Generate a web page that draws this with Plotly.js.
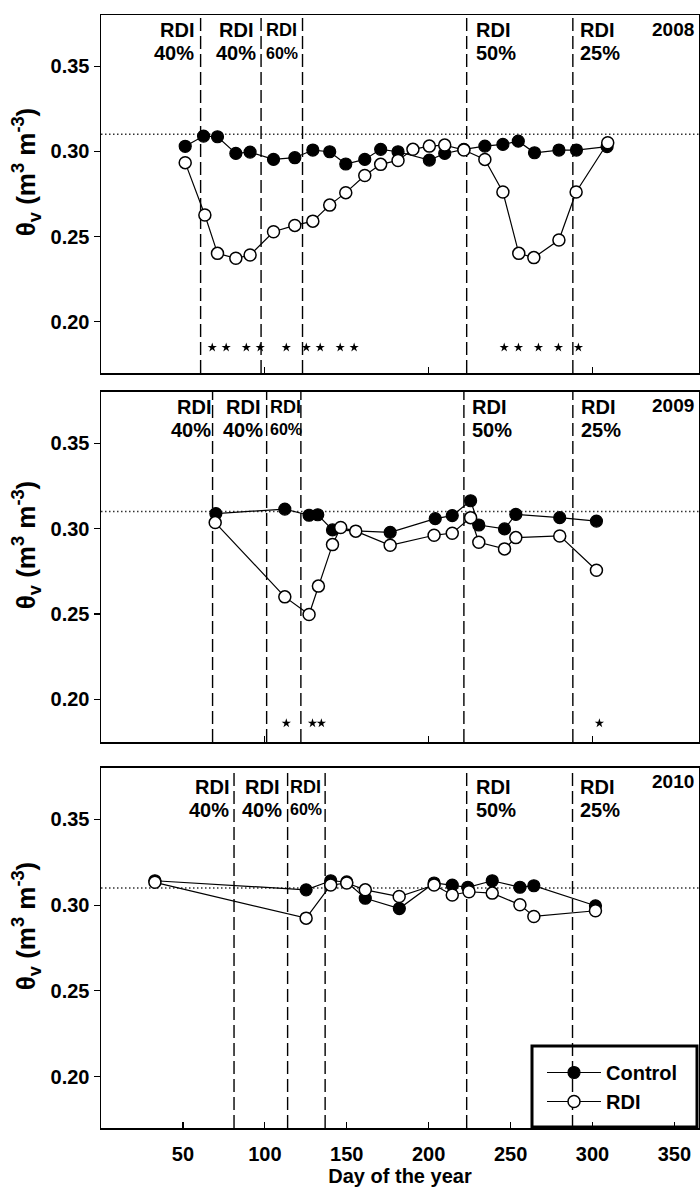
<!DOCTYPE html>
<html>
<head>
<meta charset="utf-8">
<script src="https://cdn.plot.ly/plotly-3.0.1.min.js"></script>
<style>
  html, body { margin: 0; padding: 0; background: #fff; }
  #chart { width: 700px; height: 1187px; }
</style>
</head>
<body>
<div id="chart"></div>
<script>
// ---------------- DATA ----------------
const years = ['2008', '2009', '2010'];

// 2008
const control2008Day = [51.4, 62.6, 71.1, 82.3, 91, 105.3, 118.3, 129.3, 139.6, 149.4, 161, 170.7, 181.3, 200.4, 209.8, 221.5, 234.3, 245.3, 254.7, 264.6, 279.5, 290.2, 308.9];
const control2008 = [0.303, 0.309, 0.3086, 0.2988, 0.2996, 0.2953, 0.2963, 0.3008, 0.2998, 0.2926, 0.2953, 0.3012, 0.2998, 0.2949, 0.2988, 0.3012, 0.3031, 0.3041, 0.306, 0.2992, 0.3008, 0.3008, 0.3028];
const rdi2008Day = [51.4, 63.4, 71.1, 82.3, 91, 105.3, 118.3, 129.3, 139.6, 149.4, 161, 170.7, 181.3, 190.4, 200.4, 209.8, 221.5, 234.3, 245.3, 255, 264.2, 279.5, 290, 309.3];
const rdi2008 = [0.2934, 0.2627, 0.2402, 0.2373, 0.2392, 0.2529, 0.2566, 0.2591, 0.2685, 0.2758, 0.2859, 0.2924, 0.2947, 0.3012, 0.3031, 0.3037, 0.3008, 0.2953, 0.2762, 0.2402, 0.2377, 0.248, 0.2762, 0.3051];

// 2009
const control2009Day = [70.1, 112.2, 127, 132.3, 141.3, 176.5, 204, 214.4, 225.6, 230.6, 246.3, 253.2, 280, 302.4];
const control2009 = [0.3088, 0.3114, 0.3078, 0.3081, 0.2992, 0.2978, 0.3058, 0.3076, 0.3163, 0.3021, 0.2998, 0.3083, 0.3064, 0.3044];
const rdi2009Day = [69.7, 112.2, 127, 132.7, 141.3, 146.3, 155.5, 176.5, 203.3, 214.4, 225.6, 230.6, 246.3, 253.2, 280, 302.4];
const rdi2009 = [0.3035, 0.260, 0.2497, 0.2663, 0.2906, 0.3006, 0.2985, 0.2902, 0.2961, 0.2973, 0.3064, 0.2920, 0.2881, 0.2947, 0.2957, 0.2756];

// 2010
const control2010Day = [32.9, 125.2, 140.2, 150, 161.3, 182.1, 203.3, 214.4, 223.9, 238.8, 255.7, 264.2, 301.8];
const control2010 = [0.3142, 0.3089, 0.3142, 0.3135, 0.3040, 0.2980, 0.3129, 0.3117, 0.3104, 0.3142, 0.3104, 0.3113, 0.2996];
const rdi2010Day = [32.9, 125.2, 140.2, 150, 161.3, 182, 203.3, 214.4, 224.6, 238.8, 255.7, 264.2, 301.8];
const rdi2010 = [0.3133, 0.2924, 0.3117, 0.3129, 0.3089, 0.3050, 0.3117, 0.3059, 0.3078, 0.307, 0.3002, 0.2934, 0.2967];

// RDI period boundaries (day of year)
const rdiStart2008 = [60.8, 97.7, 123, 223.2, 288];
const rdiStart2009 = [68.1, 101.1, 122, 221.5, 288];
const rdiStart2010 = [81.2, 113.9, 136.8, 223.2, 287.8];

// Significance marks (day of year)
const sig2008Day = [67.9, 76.4, 88.7, 97.2, 113.1, 125.3, 133.8, 146, 154.5, 246.1, 254.8, 267, 279.2, 291.4];
const sig2009Day = [113.1, 129.1, 134.5, 304.2];
const sig2010Day = [];

// Period labels
const periodName = ['RDI', 'RDI', 'RDI', 'RDI', 'RDI'];
const periodPct = ['40%', '40%', '60%', '50%', '25%'];

const fieldCapacity = 0.31;
const seriesNames = ['Control', 'RDI'];
const xTickVals = [50, 100, 150, 200, 250, 300, 350];
const yTickVals = [0.20, 0.25, 0.30, 0.35];

// ---------------- STYLE / LAYOUT ----------------
const FONT = '"Liberation Sans", Arial, Helvetica, sans-serif';
const sigLevel = [0.185, 0.186, 0.185];
const yRanges = [[0.17, 0.38], [0.175, 0.38], [0.17, 0.38]];
const domains = [[0.6783, 1], [0.3468, 0.6613], [0, 0.3235]];

// pixel -> paper helpers for the legend frame (plot area: x 101..699, y 15..1128)
const pxX = px => (px - 101) / 598;
const pxY = py => (1128 - py) / 1113;

// label placement per panel: [x, xanchor] for each of the 5 labels
const labelPos = [
  [[58.2, 'right'], [82.5, 'center'], [99.2, 'left'], [227.8, 'left'], [291.2, 'left']],
  [[68.2, 'right'], [86.8, 'center'], [102.1, 'left'], [225.3, 'left'], [291.8, 'left']],
  [[79.6, 'right'], [98.4, 'center'], [114.3, 'left'], [227.8, 'left'], [291.2, 'left']]
];
const labelShift = [[15, 38], [15, 38], [19, 42]];

const panels = [
  {cd: control2008Day, c: control2008, rd: rdi2008Day, r: rdi2008, lines: rdiStart2008, sig: sig2008Day},
  {cd: control2009Day, c: control2009, rd: rdi2009Day, r: rdi2009, lines: rdiStart2009, sig: sig2009Day},
  {cd: control2010Day, c: control2010, rd: rdi2010Day, r: rdi2010, lines: rdiStart2010, sig: sig2010Day}
];

const traces = [];
const shapes = [];
const annotations = [];
const layout = {
  width: 700, height: 1187,
  margin: {l: 101, r: 1, t: 15, b: 59},
  paper_bgcolor: 'white', plot_bgcolor: 'white',
  font: {family: FONT, color: 'black', size: 20, weight: 'bold'},
  showlegend: true,
  legend: {
    x: pxX(542), xanchor: 'left', y: pxY(1087), yanchor: 'middle',
    borderwidth: 0, bgcolor: 'rgba(0,0,0,0)',
    font: {family: FONT, size: 20, weight: 'bold', color: 'black'},
    traceorder: 'normal', itemwidth: 54,
    tracegroupgap: 0
  }
};

panels.forEach((p, i) => {
  const n = i + 1;
  const xa = n === 1 ? 'x' : 'x' + n;
  const ya = n === 1 ? 'y' : 'y' + n;
  const xk = n === 1 ? 'xaxis' : 'xaxis' + n;
  const yk = n === 1 ? 'yaxis' : 'yaxis' + n;
  const last = i === 2;

  layout[xk] = {
    domain: [0, 1], anchor: ya, range: [0, 365],
    showline: true, mirror: true, linecolor: 'black', linewidth: 1.5,
    showgrid: false, zeroline: false,
    ticks: 'inside', ticklen: 6, tickwidth: 1.2, tickcolor: 'black',
    tickmode: 'array',
    tickvals: last ? xTickVals : [100, 200, 300],
    showticklabels: last,
    ticklabelstandoff: 7,
    tickfont: {family: FONT, size: 20, weight: 'bold', color: 'black'},
    fixedrange: true
  };
  if (last) {
    layout[xk].title = {text: 'Day of the year', font: {family: FONT, size: 20, weight: 'bold', color: 'black'}, standoff: 11};
  }
  layout[yk] = {
    domain: domains[i], anchor: xa, range: yRanges[i],
    showline: true, mirror: true, linecolor: 'black', linewidth: 1.5,
    showgrid: false, zeroline: false,
    ticks: 'outside', ticklen: 6, tickwidth: 1.2, tickcolor: 'black',
    tickmode: 'array', tickvals: yTickVals, tickformat: '.2f',
    tickfont: {family: FONT, size: 20, weight: 'bold', color: 'black'},
    fixedrange: true
  };

  // series
  traces.push({
    x: p.cd, y: p.c, xaxis: xa, yaxis: ya, name: seriesNames[0],
    type: 'scatter', mode: 'lines+markers', showlegend: last, legendgroup: 'c',
    line: {color: 'black', width: 1.2},
    marker: {symbol: 'circle', size: 12, color: 'black', line: {color: 'black', width: 1.2}}
  });
  traces.push({
    x: p.rd, y: p.r, xaxis: xa, yaxis: ya, name: seriesNames[1],
    type: 'scatter', mode: 'lines+markers', showlegend: last, legendgroup: 'r',
    line: {color: 'black', width: 1.2},
    marker: {symbol: 'circle', size: 12, color: 'white', line: {color: 'black', width: 1.5}}
  });
  if (p.sig.length) {
    traces.push({
      x: p.sig, y: p.sig.map(() => sigLevel[i]), xaxis: xa, yaxis: ya,
      type: 'scatter', mode: 'markers', showlegend: false, hoverinfo: 'skip',
      marker: {symbol: 'star', size: 7, color: 'black', line: {width: 0}}
    });
  }

  // reference (field capacity) dotted line
  shapes.push({
    type: 'line', xref: xa + ' domain', x0: 0, x1: 1, yref: ya, y0: fieldCapacity, y1: fieldCapacity,
    line: {color: '#333', width: 1.5, dash: '1.5px,2.5px'}, layer: 'below'
  });
  // RDI period dashed lines
  p.lines.forEach(d => {
    shapes.push({
      type: 'line', xref: xa, x0: d, x1: d, yref: ya + ' domain', y0: 0, y1: 1,
      line: {color: 'black', width: 1.4, dash: '13px,5px'}, layer: 'below'
    });
  });

  // period labels
  labelPos[i].forEach((lp, k) => {
    const small = k === 2;
    annotations.push({
      xref: xa, x: lp[0], xanchor: lp[1], yref: ya + ' domain', y: 1, yanchor: 'middle',
      yshift: -labelShift[i][0], showarrow: false, text: periodName[k],
      font: {family: FONT, size: small ? 18 : 20, weight: 'bold', color: 'black'}
    });
    annotations.push({
      xref: xa, x: lp[0], xanchor: lp[1], yref: ya + ' domain', y: 1, yanchor: 'middle',
      yshift: -labelShift[i][1], showarrow: false, text: periodPct[k],
      font: {family: FONT, size: small ? 16 : 20, weight: 'bold', color: 'black'}
    });
  });
  // year label
  annotations.push({
    xref: xa + ' domain', x: 1, xanchor: 'right', xshift: -3,
    yref: ya + ' domain', y: 1, yanchor: 'middle', yshift: -14,
    showarrow: false, text: years[i],
    font: {family: FONT, size: 19, weight: 'bold', color: 'black'}
  });
  // y-axis title
  annotations.push({
    xref: 'paper', x: -0.125, xanchor: 'center',
    yref: ya + ' domain', y: 0.5, yanchor: 'middle', yshift: 22,
    textangle: -90, showarrow: false,
    text: 'θ<sub>v</sub> (m<sup>3</sup> m<sup>-3</sup>)',
    font: {family: FONT, size: 26, weight: 'bold', color: 'black'}
  });
});

// legend frame (transparent, thick border)
shapes.push({
  type: 'rect', xref: 'paper', yref: 'paper',
  x0: pxX(532), x1: pxX(697), y0: pxY(1046), y1: pxY(1127),
  line: {color: 'black', width: 3}, fillcolor: 'rgba(0,0,0,0)', layer: 'above'
});

layout.shapes = shapes;
layout.annotations = annotations;

Plotly.newPlot('chart', traces, layout, {staticPlot: true, displayModeBar: false});
</script>
</body>
</html>
